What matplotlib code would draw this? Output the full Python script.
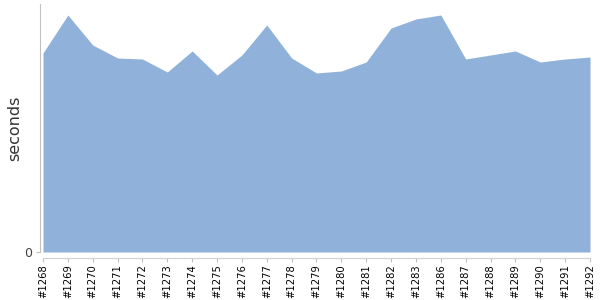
import matplotlib
matplotlib.use('Agg')
import matplotlib.pyplot as plt

builds = ['#1268', '#1269', '#1270', '#1271', '#1272', '#1273', '#1274', '#1275',
          '#1276', '#1277', '#1278', '#1279', '#1280', '#1281', '#1282', '#1283',
          '#1286', '#1287', '#1288', '#1289', '#1290', '#1291', '#1292']
seconds = [199, 237, 207, 194, 193, 180, 201, 177, 197, 227, 194, 179,
           181, 190, 224, 233, 237, 193, 197, 201, 190, 193, 195]

x = list(range(len(builds)))

fig = plt.figure(figsize=(6, 3), dpi=100)
ax = fig.add_axes([40 / 600, 48 / 300, 550 / 600, 248 / 300])

# spines first: set_position resets the tick objects
for s in ['top', 'right']:
    ax.spines[s].set_visible(False)
ax.spines['left'].set_color('#c0c0c0')
ax.spines['bottom'].set_color('#d0d0d0')
ax.spines['bottom'].set_position(('outward', 4))

ax.fill_between(x, seconds, 0, color='#8fb1da', linewidth=0)

ax.set_xlim(-0.12, len(builds) - 1)
ax.set_ylim(0, 248)
ax.spines['bottom'].set_bounds(0, len(builds) - 1)
ax.set_xticks(x)
ax.set_xticklabels(builds, fontsize=7.2, color='black')
ax.set_yticks([0])
ax.set_yticklabels(['0'], fontsize=9, color='#444444')
ax.set_ylabel('seconds', fontsize=11.5, color='#333333', labelpad=1)

ax.tick_params(axis='x', length=3, color='#c0c0c0', pad=2, labelrotation=90)
ax.tick_params(axis='y', length=3, color='#c0c0c0', pad=3)

plt.savefig('out.png', dpi=100)
plt.close()
